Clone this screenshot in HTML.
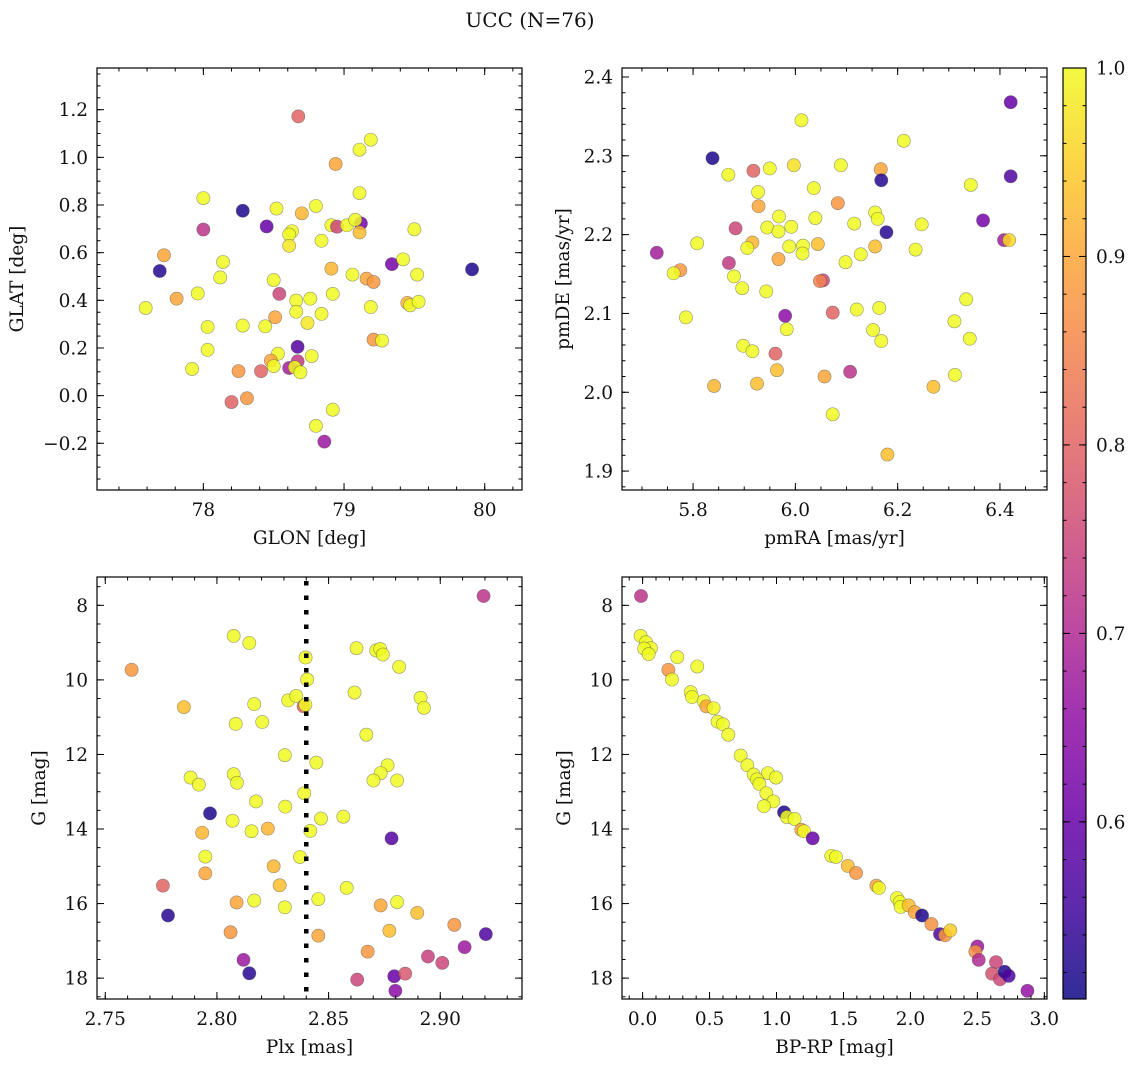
<!DOCTYPE html>
<html><head><meta charset="utf-8">
<style>
html,body{margin:0;padding:0;background:#fff;}
svg{display:block;font-family:"DejaVu Serif","Liberation Serif",serif;}
</style></head>
<body>
<svg id="chart" width="1136" height="1067" viewBox="0 0 1136 1067" xmlns="http://www.w3.org/2000/svg">
<text x="530" y="27" font-size="20" text-anchor="middle" fill="#111">UCC (N=76)</text>
</svg>
<script>
// ---- Panel 1: GLON / GLAT ----
const glon=[78.675,79.19,79.11,78.94,79.11,78.0,78.28,78.52,78.70,78.80,78.45,78.0,78.91,78.95,79.02,79.12,79.08,79.11,79.50,78.63,78.61,78.61,78.84,77.72,77.69,78.14,78.12,79.34,79.42,79.91,78.91,79.06,79.16,79.21,79.52,78.50,78.54,77.96,77.81,77.59,78.66,78.76,78.92,78.66,78.84,78.74,79.19,79.45,79.47,79.53,78.51,78.44,78.28,78.03,78.03,77.92,78.25,78.41,78.67,78.53,78.48,78.50,78.67,78.61,78.65,78.69,78.77,79.21,79.27,78.20,78.31,78.92,78.80,78.86];
const glat=[1.172,1.074,1.032,0.972,0.850,0.829,0.776,0.785,0.765,0.796,0.710,0.697,0.715,0.709,0.715,0.723,0.738,0.685,0.698,0.690,0.676,0.629,0.650,0.589,0.523,0.561,0.496,0.552,0.572,0.530,0.533,0.508,0.491,0.477,0.508,0.485,0.427,0.429,0.407,0.368,0.399,0.407,0.427,0.352,0.343,0.305,0.372,0.389,0.379,0.394,0.329,0.291,0.294,0.288,0.192,0.112,0.103,0.103,0.205,0.176,0.147,0.124,0.144,0.116,0.119,0.098,0.166,0.235,0.231,-0.027,-0.011,-0.059,-0.127,-0.193];
const prob1=[0.80,1,1,0.90,1,1,0.52,1,0.92,1,0.60,0.72,1,0.75,1,0.62,1,0.93,1,1,1,0.98,1,0.90,0.53,1,1,0.62,1,0.52,0.92,1,0.90,0.88,1,1,0.75,1,0.90,1,1,1,1,1,1,0.98,1,0.92,1,1,0.90,1,1,1,1,1,0.88,0.80,0.58,1,0.90,1,0.73,0.68,1,1,1,0.88,1,0.80,0.88,1,1,0.67];
// ---- Panel 2: pmRA / pmDE ----
const pmra=[6.421,6.012,6.212,5.838,5.869,5.918,5.950,5.997,6.089,6.167,6.168,6.421,6.343,6.036,5.927,5.928,6.083,5.968,6.039,6.156,6.161,6.115,6.247,6.367,5.883,5.945,5.967,5.992,6.178,5.808,5.729,5.916,5.906,5.988,6.015,6.014,6.044,6.156,6.235,6.408,6.418,5.967,6.128,6.098,5.870,5.775,5.762,5.880,5.896,5.943,6.054,6.048,6.334,5.786,5.980,5.983,6.073,6.120,6.164,6.152,6.168,6.311,6.341,5.898,5.916,5.961,5.964,6.107,6.057,5.841,5.925,6.312,6.270,6.073,6.180];
const pmde=[2.368,2.345,2.319,2.297,2.276,2.281,2.284,2.288,2.288,2.283,2.269,2.274,2.263,2.259,2.254,2.236,2.240,2.223,2.221,2.228,2.220,2.214,2.213,2.218,2.208,2.209,2.204,2.210,2.203,2.189,2.177,2.190,2.183,2.185,2.186,2.176,2.188,2.185,2.181,2.193,2.193,2.169,2.175,2.165,2.164,2.155,2.151,2.147,2.132,2.128,2.142,2.141,2.118,2.095,2.097,2.080,2.101,2.105,2.107,2.079,2.065,2.090,2.068,2.059,2.052,2.049,2.028,2.026,2.020,2.008,2.011,2.022,2.007,1.972,1.921];
const prob2=[0.60,1,1,0.52,1,0.80,1,0.97,1,0.90,0.53,0.57,1,1,1,0.90,0.88,1,1,1,1,1,1,0.62,0.75,1,1,1,0.53,1,0.68,0.92,1,1,1,1,0.93,0.93,1,0.68,0.96,0.90,1,1,0.73,0.88,1,1,1,1,0.75,0.85,1,1,0.65,1,0.80,1,1,1,1,1,1,1,1,0.80,0.93,0.72,0.90,0.92,0.93,1,0.93,1,0.93];
// ---- Panel 3: Plx / G ----
const plx=[2.9194,2.8075,2.8145,2.7618,2.8397,2.8404,2.8625,2.8713,2.8731,2.8743,2.8816,2.7852,2.8616,2.8912,2.8927,2.8167,2.8319,2.8355,2.8388,2.8396,2.8084,2.8203,2.8669,2.8304,2.8445,2.8764,2.8733,2.8701,2.8807,2.7882,2.7919,2.8075,2.8090,2.8391,2.8175,2.8306,2.7969,2.8466,2.8566,2.8070,2.8155,2.8228,2.8418,2.7934,2.8782,2.7948,2.8372,2.7948,2.8254,2.7758,2.8281,2.8581,2.7781,2.8088,2.8167,2.8304,2.8454,2.8733,2.8807,2.8897,2.9063,2.9204,2.8061,2.8454,2.8772,2.8675,2.9109,2.8945,2.9009,2.8119,2.8145,2.8628,2.8794,2.8843,2.8799];
const gmag3=[7.75,8.82,9.01,9.73,9.40,9.99,9.15,9.21,9.17,9.32,9.65,10.73,10.34,10.48,10.75,10.65,10.55,10.43,10.71,10.67,11.18,11.13,11.47,12.02,12.22,12.29,12.50,12.70,12.70,12.62,12.81,12.53,12.76,13.04,13.26,13.40,13.58,13.72,13.67,13.78,14.06,13.99,14.05,14.10,14.25,14.74,14.75,15.19,15.00,15.52,15.51,15.58,16.32,15.97,15.92,16.10,15.88,16.05,15.96,16.25,16.57,16.82,16.77,16.86,16.73,17.29,17.17,17.42,17.59,17.51,17.87,18.04,17.95,17.88,18.34];
const prob3=[0.72,1,1,0.88,1,1,1,1,1,1,1,0.93,1,1,1,1,1,1,0.80,1,1,1,1,1,1,1,1,1,1,1,1,1,1,1,1,1,0.52,1,1,1,1,0.92,1,0.92,0.58,1,1,0.90,0.92,0.80,0.93,1,0.53,0.90,1,1,1,0.90,1,0.93,0.88,0.57,0.88,0.90,0.93,0.88,0.67,0.74,0.75,0.67,0.53,0.75,0.60,0.78,0.65];
// ---- Panel 4: BP-RP / G ----
const bprp=[-0.012,-0.015,0.025,0.062,0.012,0.045,0.259,0.408,0.192,0.219,0.359,0.369,0.456,0.476,0.530,0.560,0.600,0.640,0.732,0.782,0.829,0.936,0.996,0.854,0.872,0.924,0.976,0.906,1.056,1.078,1.135,1.185,1.205,1.270,1.409,1.444,1.532,1.594,1.746,1.765,1.900,1.920,1.927,1.987,2.032,2.087,2.157,2.221,2.259,2.298,2.500,2.485,2.510,2.639,2.610,2.669,2.704,2.734,2.874];
const gmag4=[7.75,8.82,8.99,9.15,9.16,9.31,9.39,9.64,9.73,9.99,10.33,10.46,10.57,10.71,10.76,11.12,11.19,11.47,12.03,12.29,12.54,12.50,12.62,12.67,12.79,13.04,13.26,13.39,13.55,13.68,13.73,14.02,14.06,14.25,14.72,14.75,14.99,15.18,15.52,15.58,15.85,15.96,16.09,16.05,16.23,16.32,16.55,16.82,16.85,16.72,17.15,17.29,17.51,17.57,17.88,18.03,17.83,17.94,18.34];
const prob4=[0.72,1,1,1,1,1,1,1,0.88,1,1,1,1,0.90,1,1,1,1,1,1,1,1,1,1,1,1,1,1,0.52,1,1,0.90,1,0.60,1,1,0.93,0.88,0.90,1,1,1,1,0.93,0.90,0.52,0.87,0.57,0.88,0.95,0.67,0.87,0.70,0.75,0.77,0.75,0.53,0.57,0.66];
// ---- Colorbar ticks ----
const cbTicks=[0.6,0.7,0.8,0.9,1.0];

const FS=18.5;
const NS="http://www.w3.org/2000/svg";
const svg=document.getElementById('chart');
function mk(tag,attrs,parent){const e=document.createElementNS(NS,tag);for(const k in attrs)e.setAttribute(k,attrs[k]);(parent||svg).appendChild(e);return e;}
const stops=[[0,'#0d0887'],[0.1,'#41049d'],[0.2,'#6a00a8'],[0.3,'#8f0da4'],[0.4,'#b12a90'],[0.5,'#cc4778'],[0.6,'#e16462'],[0.7,'#f2844b'],[0.8,'#fca636'],[0.9,'#fcce25'],[1,'#f0f921']];
function hex(h){return [parseInt(h.slice(1,3),16),parseInt(h.slice(3,5),16),parseInt(h.slice(5,7),16)];}
function plasma(t){t=Math.max(0,Math.min(1,t));for(let i=1;i<stops.length;i++){if(t<=stops[i][0]){const a=stops[i-1],b=stops[i];const f=(t-a[0])/(b[0]-a[0]);const ca=hex(a[1]),cb=hex(b[1]);return 'rgb('+ca.map((v,j)=>Math.round(v+(cb[j]-v)*f)).join(',')+')';}}return stops[stops.length-1][1];}
const VMIN=0.506,VMAX=1.0;
function col(p){return plasma((p-VMIN)/(VMAX-VMIN));}
function fmt(v,d){return v.toFixed(d);}

function panel(cfg){
  const g=mk('g',{});
  
  
  const {x0,x1,y0,y1}=cfg.box;
  const sx=v=>x0+(v-cfg.xd[0])/(cfg.xd[1]-cfg.xd[0])*(x1-x0);
  const sy=v=>cfg.yinv? y0+(v-cfg.yd[0])/(cfg.yd[1]-cfg.yd[0])*(y1-y0) : y1-(v-cfg.yd[0])/(cfg.yd[1]-cfg.yd[0])*(y1-y0);
  const clip=mk('clipPath',{id:'clip-'+cfg.name},g);
  mk('rect',{x:x0,y:y0,width:x1-x0,height:y1-y0},clip);
  const pts=mk('g',{'clip-path':'url(#clip-'+cfg.name+')'},g);
  for(let i=0;i<cfg.xs.length;i++){
    const c=mk('circle',{cx:sx(cfg.xs[i]),cy:sy(cfg.ys[i]),r:6.6,fill:col(cfg.ps[i]),'fill-opacity':0.85,stroke:'rgba(70,70,70,0.55)','stroke-width':0.6},pts);
    
    
  }
  if(cfg.vlineTop!==undefined){
    const l=mk('line',{x1:sx(cfg.vlineTop),x2:sx(cfg.vlineTop),y1:y0+4,y2:y1,stroke:'#000','stroke-width':4.5,'stroke-dasharray':'4.5,10'},pts);
    
    
  }
  const tk=mk('g',{stroke:'#000','stroke-width':1},g);
  const eps=1e-9;
  function range(a,b,s){const r=[];const st=Math.ceil((a-eps)/s);for(let k=st;k*s<=b+eps;k++)r.push(+(k*s).toFixed(6));return r;}
  const xmin=Math.min(...cfg.xd),xmax=Math.max(...cfg.xd),ymin=Math.min(...cfg.yd),ymax=Math.max(...cfg.yd);
  range(xmin,xmax,cfg.xminor).forEach(v=>{const X=sx(v);mk('line',{x1:X,x2:X,y1:y1,y2:y1-3.5},tk);mk('line',{x1:X,x2:X,y1:y0,y2:y0+3.5},tk);});
  range(ymin,ymax,cfg.yminor).forEach(v=>{const Y=sy(v);mk('line',{x1:x0,x2:x0+3.5,y1:Y,y2:Y},tk);mk('line',{x1:x1,x2:x1-3.5,y1:Y,y2:Y},tk);});
  cfg.xticks.forEach(v=>{const X=sx(v);mk('line',{x1:X,x2:X,y1:y1,y2:y1-7},tk);mk('line',{x1:X,x2:X,y1:y0,y2:y0+7},tk);
    const t=mk('text',{x:X,y:y1+26,'font-size':FS,'text-anchor':'middle',fill:'#111'},g);t.textContent=fmt(v,cfg.xdec);
    });
  cfg.yticks.forEach(v=>{const Y=sy(v);mk('line',{x1:x0,x2:x0+7,y1:Y,y2:Y},tk);mk('line',{x1:x1,x2:x1-7,y1:Y,y2:Y},tk);
    const t=mk('text',{x:x0-9,y:Y+6.5,'font-size':FS,'text-anchor':'end',fill:'#111'},g);t.textContent=fmt(v,cfg.ydec).replace('-','\u2212');
    });
  const fr=mk('rect',{x:x0,y:y0,width:x1-x0,height:y1-y0,fill:'none',stroke:'#000','stroke-width':1.2},g);
  
  const xl=mk('text',{x:(x0+x1)/2,y:y1+54,'font-size':FS,'text-anchor':'middle',fill:'#111'},g);xl.textContent=cfg.xlabel;
  
  const cy=(y0+y1)/2,cx=cfg.ylx;
  const yl=mk('text',{x:cx,y:cy,'font-size':FS,'text-anchor':'middle',fill:'#111',transform:'rotate(-90 '+cx+' '+cy+')'},g);yl.textContent=cfg.ylabel;
  
}

panel({name:'panel-glon-glat',box:{x0:97,x1:522,y0:68,y1:490},xd:[77.244,80.265],yd:[-0.396,1.375],xs:glon,ys:glat,ps:prob1,
  xticks:[78,79,80],xminor:0.2,xdec:0,yticks:[-0.2,0,0.2,0.4,0.6,0.8,1.0,1.2],yminor:0.05,ydec:1,xlabel:'GLON [deg]',ylabel:'GLAT [deg]',ylx:23});
panel({name:'panel-pmra-pmde',box:{x0:622,x1:1047,y0:68,y1:490},xd:[5.661,6.492],yd:[1.876,2.4114],xs:pmra,ys:pmde,ps:prob2,
  xticks:[5.8,6.0,6.2,6.4],xminor:0.05,xdec:1,yticks:[1.9,2.0,2.1,2.2,2.3,2.4],yminor:0.02,ydec:1,xlabel:'pmRA [mas/yr]',ylabel:'pmDE [mas/yr]',ylx:569});
panel({name:'panel-plx-g',box:{x0:97,x1:522,y0:577,y1:999},xd:[2.7463,2.9366],yd:[7.24,18.56],yinv:true,xs:plx,ys:gmag3,ps:prob3,vlineTop:2.84,
  xticks:[2.75,2.80,2.85,2.90],xminor:0.01,xdec:2,yticks:[8,10,12,14,16,18],yminor:0.5,ydec:0,xlabel:'Plx [mas]',ylabel:'G [mag]',ylx:45});
panel({name:'panel-cmd',box:{x0:622,x1:1047,y0:577,y1:999},xd:[-0.154,3.020],yd:[7.24,18.56],yinv:true,xs:bprp,ys:gmag4,ps:prob4,
  xticks:[0,0.5,1.0,1.5,2.0,2.5,3.0],xminor:0.1,xdec:1,yticks:[8,10,12,14,16,18],yminor:0.5,ydec:0,xlabel:'BP-RP [mag]',ylabel:'G [mag]',ylx:570});

(function(){
  const g=mk('g',{});
  
  
  const x0=1063,x1=1086,y0=68,y1=999;
  const defs=mk('defs',{},g);
  const lg=mk('linearGradient',{id:'cbgrad',x1:0,y1:1,x2:0,y2:0},defs);
  for(let i=0;i<=20;i++){mk('stop',{offset:(i/20),'stop-color':plasma(i/20),'stop-opacity':0.85},lg);}
  mk('rect',{x:x0,y:y0,width:x1-x0,height:y1-y0,fill:'url(#cbgrad)'},g);
  const sy=v=>y1-(v-VMIN)/(VMAX-VMIN)*(y1-y0);
  for(let k=26;k<=50;k++){const v=k*0.02;if(v<VMIN||v>VMAX+1e-9)continue;const Y=sy(v);mk('line',{x1:x1,x2:x1-3.5,y1:Y,y2:Y,stroke:'#000','stroke-width':1},g);mk('line',{x1:x0,x2:x0+3.5,y1:Y,y2:Y,stroke:'#000','stroke-width':1},g);}
  cbTicks.forEach(v=>{const Y=sy(v);mk('line',{x1:x1,x2:x1-7,y1:Y,y2:Y,stroke:'#000','stroke-width':1},g);mk('line',{x1:x0,x2:x0+7,y1:Y,y2:Y,stroke:'#000','stroke-width':1},g);
    const t=mk('text',{x:x1+10,y:Y+6.5,'font-size':FS,fill:'#111'},g);t.textContent=v.toFixed(1);
    });
  mk('rect',{x:x0,y:y0,width:x1-x0,height:y1-y0,fill:'none',stroke:'#000','stroke-width':1.2},g);
})();
</script>
</body></html>
